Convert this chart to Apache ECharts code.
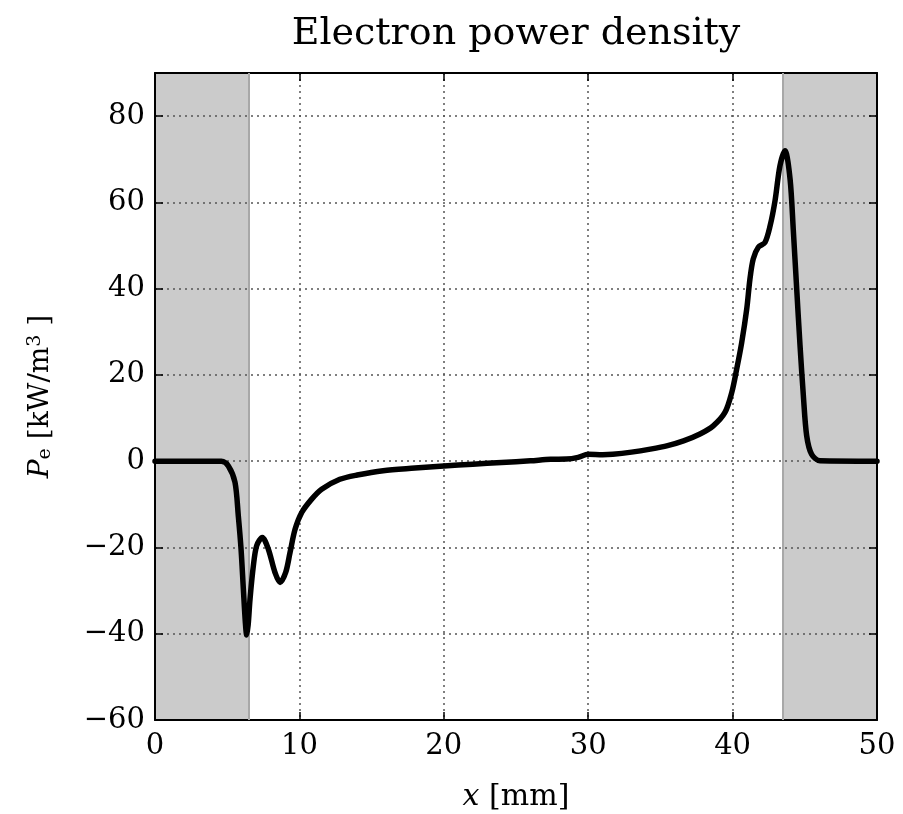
<!DOCTYPE html>
<html><head><meta charset="utf-8">
<script src="https://cdn.jsdelivr.net/npm/echarts@6/dist/echarts.min.js"></script>
<style>html,body{margin:0;padding:0;background:#fff}#c{width:903px;height:814px}</style>
</head><body><div id="c"></div>
<script>
var xValues = [0, 4.6, 5.08, 5.54, 5.77, 5.96, 6.12, 6.26, 6.35, 6.45, 6.58, 6.81, 7.04, 7.43, 7.85, 8.31, 8.66, 9.05, 9.35, 9.7, 10.16, 10.85, 11.54, 12.8, 14.0, 15.8, 18.0, 20.0, 22.0, 24.0, 26.0, 27.4, 28.5, 29.3, 30.0, 31.0, 31.7, 33.0, 34.3, 35.5, 36.6, 37.74, 38.66, 39.47, 39.94, 40.28, 40.63, 40.98, 41.2, 41.43, 41.78, 42.24, 42.6, 42.94, 43.28, 43.63, 43.98, 44.2, 44.44, 44.67, 44.9, 45.13, 45.47, 46.05, 50];
var peValues = [0, 0, -1.1, -4.9, -12.7, -20.4, -29.7, -37.5, -40.3, -38.0, -32, -24.3, -19.6, -17.7, -20.4, -25.8, -28.1, -25.8, -21.2, -15.8, -11.9, -8.8, -6.5, -4.2, -3.2, -2.2, -1.6, -1.1, -0.7, -0.3, 0.1, 0.45, 0.5, 0.9, 1.6, 1.5, 1.6, 2.1, 2.8, 3.6, 4.7, 6.3, 8.2, 11.3, 15.9, 21.3, 27.5, 35.3, 42.2, 46.9, 49.6, 50.7, 54.6, 60.4, 68.5, 72.0, 65.4, 53.8, 39.9, 26.8, 15.2, 5.9, 1.6, 0.1, 0];
var shadedRegions = [[0, 6.5], [43.5, 50]];
var xRange = [0, 50], yRange = [-60, 90];
var xTicks = 10, yTicks = 20;
var titleText = 'Electron power density';

var FONT = 'DejaVu Serif, serif';
var data = xValues.map(function (x, i) { return [x, peValues[i]]; });
var grid = {left: 155, right: 26, top: 73, bottom: 94, containLabel: false, outerBoundsMode: 'none'};
var gridLine = {show: true, lineStyle: {color: '#555', width: 1.5, type: [2, 4]}};
var frame = {show: true, onZero: false, lineStyle: {color: '#000', width: 2}};
var tick = {show: true, inside: true, length: 8, lineStyle: {color: '#000', width: 1.5}};

var chart = echarts.init(document.getElementById('c'), null, {renderer: 'canvas'});
chart.setOption({
  animation: false,
  backgroundColor: '#fff',
  title: {text: titleText, left: 511, textAlign: 'center', top: 10,
    textStyle: {fontFamily: FONT, fontWeight: 'normal', fontSize: 38, color: '#000'}},
  grid: grid,
  xAxis: [{
    type: 'value', min: xRange[0], max: xRange[1], interval: xTicks, position: 'bottom', z: 3,
    axisLine: frame, axisTick: tick, splitLine: gridLine,
    axisLabel: {fontFamily: FONT, fontSize: 29, color: '#000', margin: 12},
    name: '{i|x} [mm]', nameLocation: 'middle', nameGap: 62,
    nameTextStyle: {fontFamily: FONT, fontSize: 30, color: '#000',
      rich: {i: {fontFamily: FONT, fontSize: 30, fontStyle: 'italic'}}}
  }, {
    type: 'value', min: xRange[0], max: xRange[1], interval: xTicks, position: 'top', z: 3,
    axisLine: frame, axisTick: tick, splitLine: {show: false}, axisLabel: {show: false}
  }],
  yAxis: [{
    type: 'value', min: yRange[0], max: yRange[1], interval: yTicks, position: 'left', z: 3,
    axisLine: frame, axisTick: tick, splitLine: gridLine,
    axisLabel: {fontFamily: FONT, fontSize: 29, color: '#000', margin: 10, showMaxLabel: false,
      formatter: function (v) { return v < 0 ? '\u2212' + Math.abs(v) : String(v); }},
    name: '{i|P}{sub|e} [kW/m{sup|3} ]', nameLocation: 'middle', nameGap: 100, nameRotate: 90,
    nameTextStyle: {fontFamily: FONT, fontSize: 28, color: '#000',
      rich: {
        i: {fontFamily: FONT, fontSize: 28, fontStyle: 'italic'},
        sub: {fontFamily: FONT, fontSize: 19, verticalAlign: 'bottom', padding: [10, 0, 0, 0]},
        sup: {fontFamily: FONT, fontSize: 19, verticalAlign: 'top', padding: [0, 0, 10, 0]}
      }}
  }, {
    type: 'value', min: yRange[0], max: yRange[1], interval: yTicks, position: 'right', z: 3,
    axisLine: frame, axisTick: tick, splitLine: {show: false}, axisLabel: {show: false}
  }],
  series: [{
    type: 'line', data: [], z: 1, silent: true,
    markArea: {silent: true, itemStyle: {color: '#cbcbcb'},
      data: shadedRegions.map(function (r) { return [{xAxis: r[0]}, {xAxis: r[1]}]; })},
    markLine: {silent: true, symbol: 'none', label: {show: false},
      lineStyle: {color: '#a8a8a8', width: 2, type: 'solid'},
      data: [{xAxis: shadedRegions[0][1]}, {xAxis: shadedRegions[1][0]}]}
  }, {
    type: 'line', data: data, showSymbol: false, smooth: 0.3, z: 5,
    lineStyle: {color: '#000', width: 5.5, join: 'round', cap: 'round'}
  }]
});
</script></body></html>
